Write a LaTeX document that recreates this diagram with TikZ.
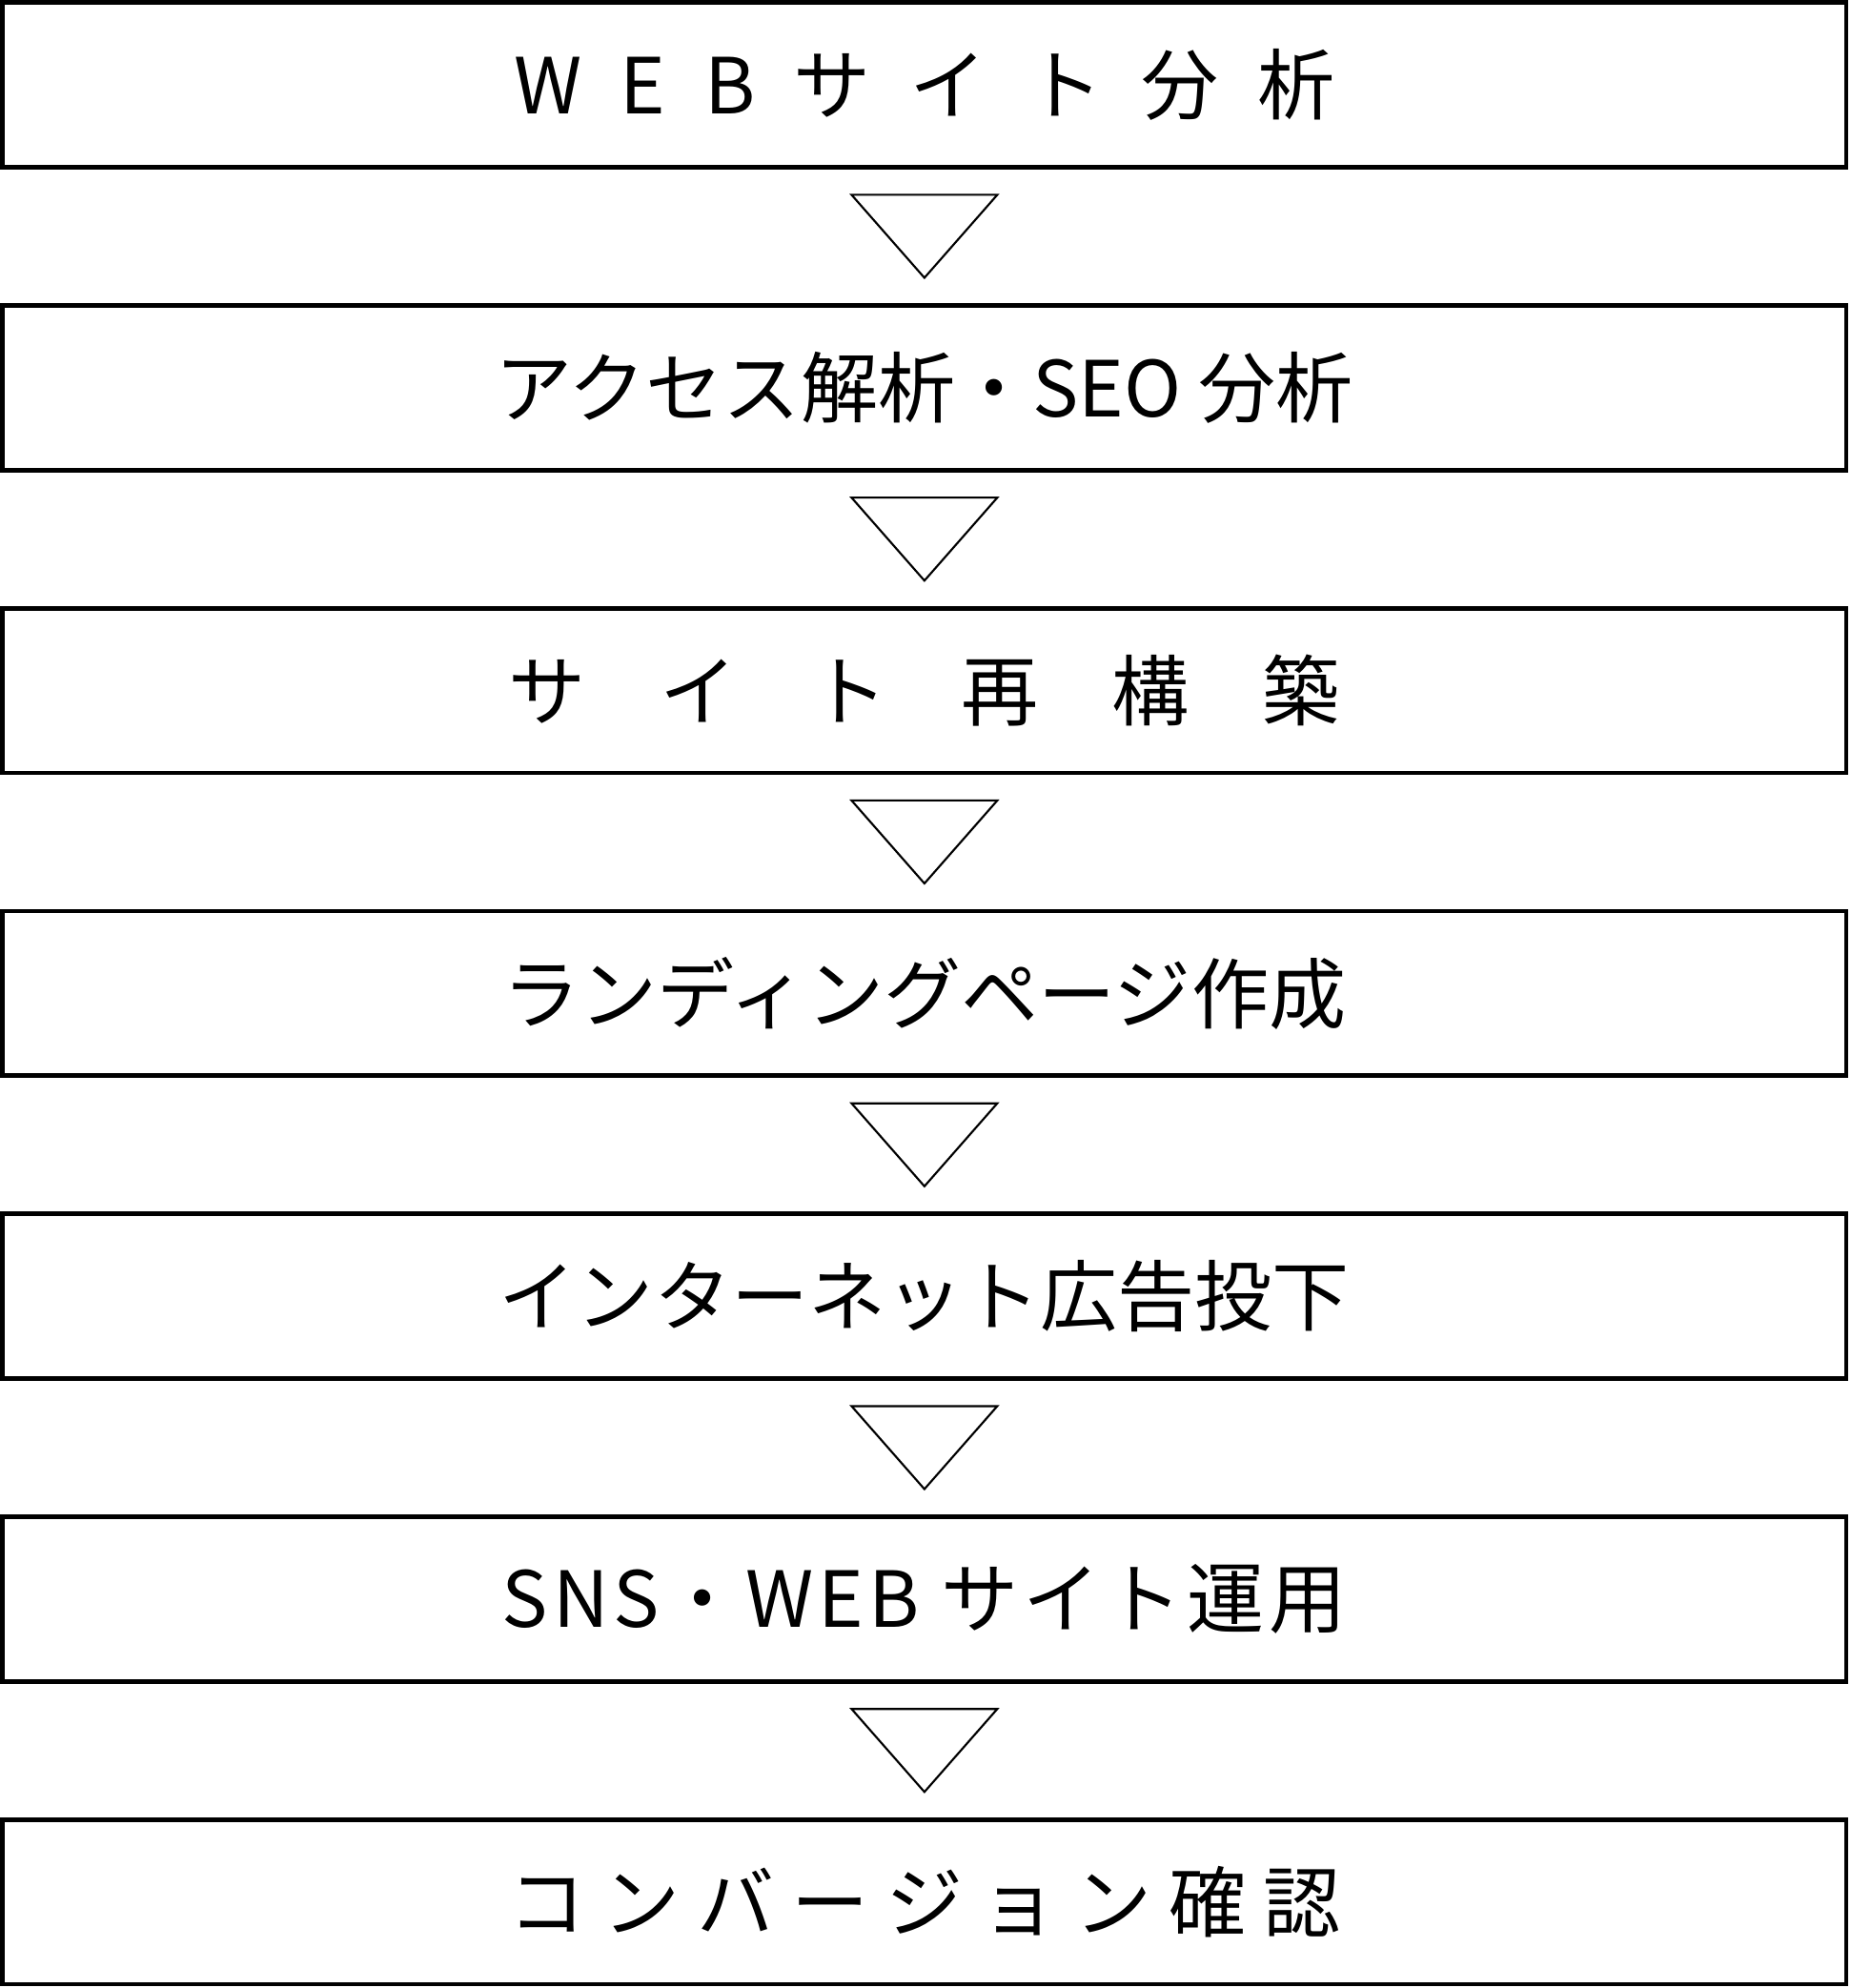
\documentclass[tikz,border=0pt]{standalone}
\usepackage{fontspec}
\newfontfamily\jpfont{Noto Sans CJK JP}
\usetikzlibrary{calc}

\begin{document}
\begin{tikzpicture}[x=1pt,y=-1pt,
	stepbox/.style={draw, line width=3.5pt, minimum width=1455pt, minimum height=130pt, inner sep=0pt, font=\jpfont\fontsize{61}{72}\selectfont},
	downtri/.style={draw, line width=1.6pt, line join=miter}]
			\useasboundingbox (0,0) rectangle (1460,1569);
			%draw boxes
			\node[stepbox] (web) at (729.5,67) {W\hspace{.5em}E\hspace{.5em}B\hspace{.5em}サ\hspace{.5em}イ\hspace{.5em}ト\hspace{.5em}分\hspace{.5em}析};
			\node[stepbox] (seo) at (729.5,306) {アクセス解析・SEO 分析};
			\node[stepbox] (site) at (729.5,545) {サ\hspace{.95em}イ\hspace{.95em}ト\hspace{.95em}再\hspace{.95em}構\hspace{.95em}築};
			\node[stepbox] (lp) at (729.5,784) {ランディングページ作成};
			\node[stepbox] (ad) at (729.5,1023) {インターネット広告投下};
			\node[stepbox] (sns) at (729.5,1262) {\addfontfeature{LetterSpace=6}SNS・WEB サイト運用};
			\node[stepbox] (cv) at (729.5,1501) {コ\hspace{.22em}ン\hspace{.22em}バ\hspace{.22em}ー\hspace{.22em}ジ\hspace{.22em}ョ\hspace{.22em}ン\hspace{.22em}確\hspace{.22em}認};
			%draw triangles
			\foreach \a/\b in {web/seo, seo/site, site/lp, lp/ad, ad/sns, sns/cv}{
				\draw[downtri] ($(\a.south)+(-57.5,20)$) -- ($(\a.south)+(57.5,20)$) -- ($(\b.north)+(0,-20)$) -- cycle;
			}
\end{tikzpicture}
\end{document}
